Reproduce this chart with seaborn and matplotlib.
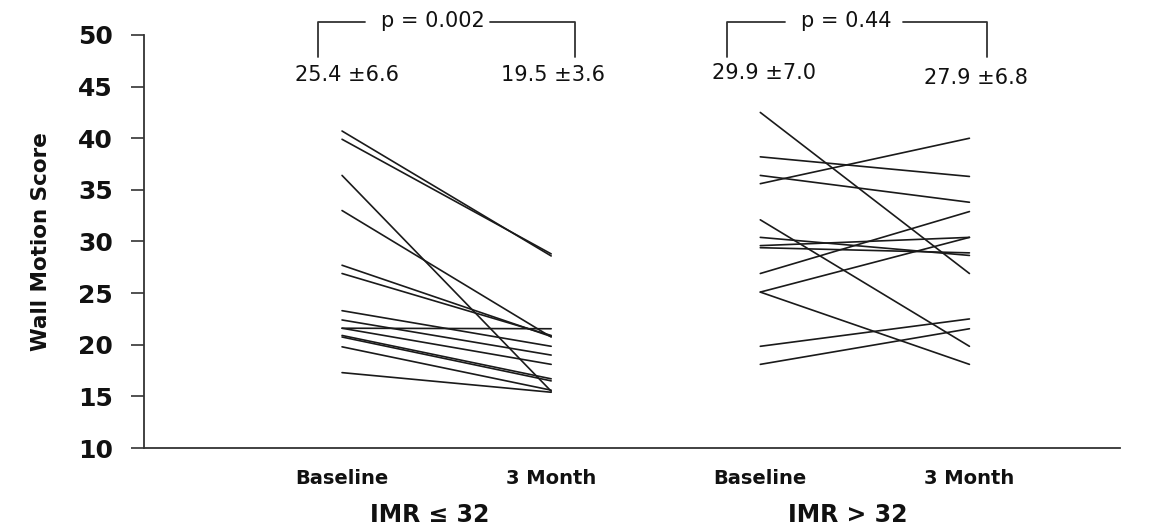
import numpy as np
import pandas as pd
import matplotlib
matplotlib.use("Agg")
import matplotlib.pyplot as plt
import seaborn as sns

# data
time_labels = ["Baseline", "3 Month"]
group_labels = ["IMR \u2264 32", "IMR > 32"]

low_baseline = [40.7, 39.9, 36.4, 33.0, 27.7, 26.9, 23.3, 22.4, 21.6, 21.6, 20.9, 20.75, 19.8, 17.3]
low_month3 = [28.6, 28.8, 15.5, 20.75, 20.8, 20.9, 19.85, 19.0, 21.55, 18.1, 16.7, 16.5, 15.6, 15.4]

high_baseline = [42.5, 38.2, 36.4, 35.6, 32.1, 30.4, 29.6, 29.4, 26.9, 25.1, 25.1, 19.85, 18.1]
high_month3 = [26.9, 36.3, 33.8, 40.0, 19.85, 28.65, 30.4, 28.9, 32.9, 30.4, 18.1, 22.5, 21.55]

mean_texts = ["25.4 \u00b16.6", "19.5 \u00b13.6", "29.9 \u00b17.0", "27.9 \u00b16.8"]
p_texts = ["p = 0.002", "p = 0.44"]

rows = []
for g, (b, m) in enumerate([(low_baseline, low_month3), (high_baseline, high_month3)]):
    for i, (v0, v1) in enumerate(zip(b, m)):
        rows.append({"subject": f"{g}-{i}", "x": g * 2, "score": v0})
        rows.append({"subject": f"{g}-{i}", "x": g * 2 + 1, "score": v1})
df = pd.DataFrame(rows)

sns.set_style("white")
plt.rcParams["font.family"] = ["DejaVu Sans"]
plt.rcParams["text.color"] = "#111111"

fig = plt.figure(figsize=(11.53, 5.30), dpi=100)
ax = fig.add_axes([144 / 1153, 82 / 530, 976 / 1153, 413 / 530])

sns.lineplot(data=df, x="x", y="score", units="subject", estimator=None,
             color="#1a1a1a", linewidth=1.2, ax=ax)

ax.set_xlim(-0.947, 3.72)
ax.set_ylim(10, 50)
ax.set_yticks(range(10, 51, 5))
ax.set_yticklabels([str(v) for v in range(10, 51, 5)], fontsize=18, fontweight="bold")
ax.set_xticks([0, 1, 2, 3])
ax.set_xticklabels(time_labels * 2, fontsize=14, fontweight="bold")
ax.tick_params(axis="x", bottom=False, length=0, pad=15, labelcolor="#111111")
ax.tick_params(axis="y", left=True, length=9.5, width=1.2, direction="out", pad=13,
               color="#333333", labelcolor="#111111")
for s in ["top", "right"]:
    ax.spines[s].set_visible(False)
for s in ["left", "bottom"]:
    ax.spines[s].set_color("#333333")
    ax.spines[s].set_linewidth(1.3)

ax.set_xlabel("")
ax.set_ylabel("Wall Motion Score", fontsize=15.5, fontweight="bold", labelpad=19,
              color="#111111")

# group labels under the axis
for g, lab in enumerate(group_labels):
    ax.text(g * 2 + 0.42, -0.163, lab, transform=ax.get_xaxis_transform(),
            ha="center", va="center", fontsize=17, fontweight="bold")

# means and brackets
mean_pos = [(0.024, 46.1), (1.01, 46.1), (2.02, 46.3), (3.03, 45.8)]
for (x, y), t in zip(mean_pos, mean_texts):
    ax.text(x, y, t, ha="center", va="center", fontsize=15, clip_on=False)

brackets = [(-0.115, 1.115, 0.11, 0.708, 0.435), (1.842, 3.086, 2.12, 2.68, 2.41)]
for (x0, x1, g0, g1, xt), t in zip(brackets, p_texts):
    kw = dict(color="#333333", linewidth=1.3, clip_on=False)
    ax.plot([x0, x0, g0], [47.9, 51.25, 51.25], **kw)
    ax.plot([g1, x1, x1], [51.25, 51.25, 47.9], **kw)
    ax.text(xt, 51.35, t, ha="center", va="center", fontsize=15, clip_on=False)

fig.savefig("out.png", dpi=100)
